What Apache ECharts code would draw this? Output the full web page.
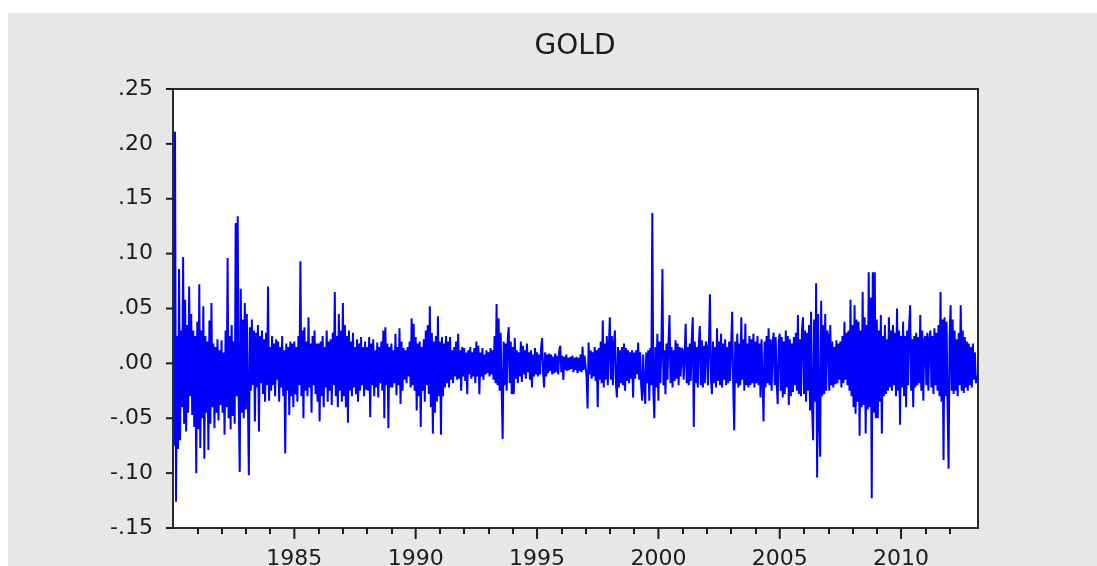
<!DOCTYPE html>
<html>
<head>
<meta charset="utf-8">
<title>GOLD</title>
<script src="https://cdn.jsdelivr.net/npm/echarts@6/dist/echarts.min.js"></script>
<style>
html, body { margin: 0; padding: 0; background: #fff; }
#main { position: absolute; left: 8px; top: 13px; width: 1089px; height: 553px; }
</style>
</head>
<body>
<div id="main"></div>
<script>
// gold returns, in thousandths, 24 points per year
var y1980 = [20,-75,211,-126,25,-78,86,-70,30,-40,97,-55,58,-62,35,-45,70,-30,45,-47,30,-58,25,-100];
var y1981 = [38,-60,72,-77,30,-50,52,-87,25,-45,20,-79,39,-55,55,-40,18,-59,15,-45,22,-52,12,-38];
var y1982 = [21,-45,10,-65,30,-40,96,-50,25,-60,35,-48,20,-55,128,-30,134,-35,-99,68,-45,40,-50,55];
var y1983 = [-42,45,-30,-102,33,-25,40,-20,30,-53,28,-22,35,-62,25,-18,30,-28,22,-35,28,-20,70,-34];
var y1984 = [15,-25,25,-20,18,-30,22,-15,20,-35,15,-22,25,-30,12,-82,18,-25,15,-47,20,-30,18,-40];
var y1985 = [20,-28,15,-35,25,-20,93,-30,30,-50,33,-25,20,-30,42,-22,18,-45,25,-20,30,-28,18,-35];
var y1986 = [18,-53,20,-30,25,-40,15,-22,30,-35,20,-25,22,-38,28,-20,65,-30,25,-40,45,-25,30,-35];
var y1987 = [55,-30,35,-40,25,-54,30,-25,20,-30,28,-22,15,-28,22,-35,18,-25,24,-20,15,-30,20,-24];
var y1988 = [15,-25,24,-49,18,-20,22,-30,12,-22,19,-31,15,-18,20,-25,30,-50,33,-20,18,-59,15,-22];
var y1989 = [18,-22,12,-18,27,-29,15,-20,32,-37,20,-25,14,-15,12,-18,15,-12,20,-22,41,-20,36,-25];
var y1990 = [24,-43,18,-30,20,-58,15,-25,22,-35,30,-20,35,-28,52,-40,28,-64,20,-45,25,-35,43,-30];
var y1991 = [20,-65,24,-30,18,-22,25,-18,20,-22,24,-15,12,-18,15,-12,20,-15,27,-14,12,-25,15,-12];
var y1992 = [14,-16,10,-28,12,-10,15,-14,10,-12,14,-18,20,-12,16,-28,10,-12,14,-15,8,-10,12,-9];
var y1993 = [10,-12,14,-10,12,-15,25,-18,54,-20,41,-25,28,-22,-69,20,-20,18,-25,22,33,-18,20,-28];
var y1994 = [15,-28,23,-14,12,-18,10,-12,20,-17,16,-10,12,-14,18,-8,10,-15,12,-22,8,-12,14,-10];
var y1995 = [10,-12,8,-10,14,23,-8,-22,10,-12,8,-9,9,-7,8,-10,6,-9,9,-8,7,-10,12,16];
var y1996 = [-8,7,-15,6,-6,8,-7,5,-6,6,-5,7,-8,5,-6,6,-9,5,-7,8,-8,15,-6,7];
var y1997 = [8,-12,-41,19,-10,12,-14,10,-12,15,-16,12,-40,14,-15,20,-18,39,-22,18,-15,25,-20,15];
var y1998 = [42,-15,25,-20,18,30,-18,-31,15,-22,12,-18,15,-20,18,-25,14,-16,12,-18,10,-14,12,-31];
var y1999 = [10,-14,12,-10,19,-15,10,-20,-34,8,-22,-37,10,-18,12,-34,14,-20,137,-25,-50,15,-22,27];
var y2000 = [-34,20,-18,15,86,-20,12,-28,18,-15,20,44,-18,15,-22,12,-16,21,-14,18,-20,15,-12,14];
var y2001 = [12,-15,10,36,-18,15,-20,18,-16,22,42,-58,20,-18,15,-22,18,34,-20,21,-22,16,-18,20];
var y2002 = [15,-20,18,63,-15,-28,20,-18,15,-22,32,-16,20,-20,27,-22,18,-15,22,-20,15,-18,20,-16];
var y2003 = [18,47,-20,-61,20,-18,27,-22,18,-20,42,-15,22,-25,36,-20,18,-22,25,-20,22,-18,27,-22];
var y2004 = [20,-18,25,-20,18,-31,22,-15,-53,20,-22,25,-18,32,-20,22,-25,18,28,-20,24,-18,-37,20];
var y2005 = [27,-25,24,-31,20,-28,30,-22,25,-38,22,-30,18,-26,24,-20,28,-25,44,-28,22,-30,30,42];
var y2006 = [-28,30,-35,28,-25,35,-43,47,-40,-70,40,-35,73,-104,45,-50,-85,57,-30,35,-28,45,-25,30];
var y2007 = [25,-25,35,-20,20,-22,15,-19,21,-18,18,-15,20,-22,25,-18,38,-15,28,-20,30,-25,58,-30];
var y2008 = [35,-40,53,-46,40,-35,38,-66,30,-40,65,-38,42,-64,35,-42,83,-40,60,-123,83,-45,83,-50];
var y2009 = [40,-50,30,-35,44,-64,25,-30,35,-28,22,-25,42,-22,30,-25,35,-20,28,-30,50,-25,30,-56];
var y2010 = [25,-22,38,-30,25,-40,30,-20,35,53,-25,22,-40,25,-22,28,-20,24,-18,44,-25,30,-34,22];
var y2011 = [25,-20,28,-25,22,30,-22,25,-28,32,-20,28,-25,35,-30,65,-35,40,-88,42,-30,38,-40,-96];
var y2012 = [25,53,-25,40,-28,30,-25,22,-30,28,-20,53,-25,30,-27,24,-22,20,-25,18,-20,15,-22,18];
var y2013 = [-15,10,-18,-11];

var years = [1980,1981,1982,1983,1984,1985,1986,1987,1988,1989,1990,1991,1992,1993,1994,1995,1996,
  1997,1998,1999,2000,2001,2002,2003,2004,2005,2006,2007,2008,2009,2010,2011,2012,2013];
var yearValues = [y1980,y1981,y1982,y1983,y1984,y1985,y1986,y1987,y1988,y1989,y1990,y1991,y1992,
  y1993,y1994,y1995,y1996,y1997,y1998,y1999,y2000,y2001,y2002,y2003,y2004,y2005,y2006,y2007,
  y2008,y2009,y2010,y2011,y2012,y2013];
var labelYears = [1985, 1990, 1995, 2000, 2005, 2010];
var minorYears = [1981,1982,1983,1984,1986,1987,1988,1989,1991,1992,1993,1994,1996,1997,1998,1999,
  2001,2002,2003,2004,2006,2007,2008,2009,2011,2012];
var yTicks = [-0.15, -0.10, -0.05, 0, 0.05, 0.10, 0.15, 0.20, 0.25];

var points = [];
yearValues.forEach(function (vals, k) {
  vals.forEach(function (v, j) {
    points.push([years[k] + j / 24, v / 1000]);
  });
});

var ink = '#1c1c1c';
var frame = '#2a2a2a';
var labelFont = { fontFamily: 'DejaVu Sans', fontSize: 22, color: ink };
var off = { show: false };

var chart = echarts.init(document.getElementById('main'));
chart.setOption({
  backgroundColor: '#e7e7e7',
  animation: false,
  title: {
    text: 'GOLD',
    left: 567,
    top: 20,
    padding: 0,
    textAlign: 'center',
    textStyle: { fontFamily: 'DejaVu Sans', fontSize: 28, fontWeight: 'normal', color: ink }
  },
  grid: {
    left: 165, right: 119, top: 76, bottom: 38, containLabel: false, outerBoundsMode: 'none',
    show: true, backgroundColor: '#fff', borderColor: frame, borderWidth: 2
  },
  xAxis: [{
    type: 'value', position: 'bottom', z: 10,
    min: 1980, max: 2013.17, interval: 5,
    axisLine: { show: true, onZero: false, lineStyle: { color: frame, width: 2 } },
    splitLine: off,
    axisTick: off,
    axisLabel: Object.assign({
      customValues: labelYears,
      margin: 20,
      formatter: function (v) { return String(Math.round(v)); }
    }, labelFont)
  }, {
    type: 'value', position: 'bottom', z: 10,
    min: 1980, max: 2013.17, interval: 5,
    axisLine: { show: false, onZero: false },
    splitLine: off,
    axisTick: { show: true, inside: false, customValues: minorYears, length: 6, lineStyle: { color: ink, width: 2 } },
    axisLabel: off
  }],
  yAxis: {
    type: 'value', position: 'left', z: 10,
    min: -0.15, max: 0.25, interval: 0.05,
    axisLine: { show: true, onZero: false, lineStyle: { color: frame, width: 2 } },
    splitLine: off,
    axisTick: off,
    axisLabel: Object.assign({
      margin: 20,
      formatter: function (v) { return v.toFixed(2).replace('0.', '.'); }
    }, labelFont)
  },
  series: [{
    name: 'GOLD',
    type: 'line',
    xAxisIndex: 0,
    yAxisIndex: 0,
    data: points,
    symbol: 'none',
    silent: true,
    lineStyle: { color: '#0000ff', width: 2 }
  }]
});

// the value ticks and the long year ticks, placed through the axes' own scales
var plotLeft = chart.convertToPixel({ xAxisIndex: 0 }, 1980);
var plotBottom = chart.convertToPixel({ yAxisIndex: 0 }, -0.15);
var tickStyle = { stroke: ink, lineWidth: 2 };
var marks = [];
yTicks.forEach(function (v) {
  var py = chart.convertToPixel({ yAxisIndex: 0 }, v);
  marks.push({ type: 'line', z: 100, silent: true,
    shape: { x1: plotLeft - 7, y1: py, x2: plotLeft, y2: py }, style: tickStyle });
});
labelYears.forEach(function (yr) {
  var px = chart.convertToPixel({ xAxisIndex: 0 }, yr);
  marks.push({ type: 'line', z: 100, silent: true,
    shape: { x1: px, y1: plotBottom, x2: px, y2: plotBottom + 11 }, style: tickStyle });
});
chart.setOption({ graphic: marks });
</script>
</body>
</html>
